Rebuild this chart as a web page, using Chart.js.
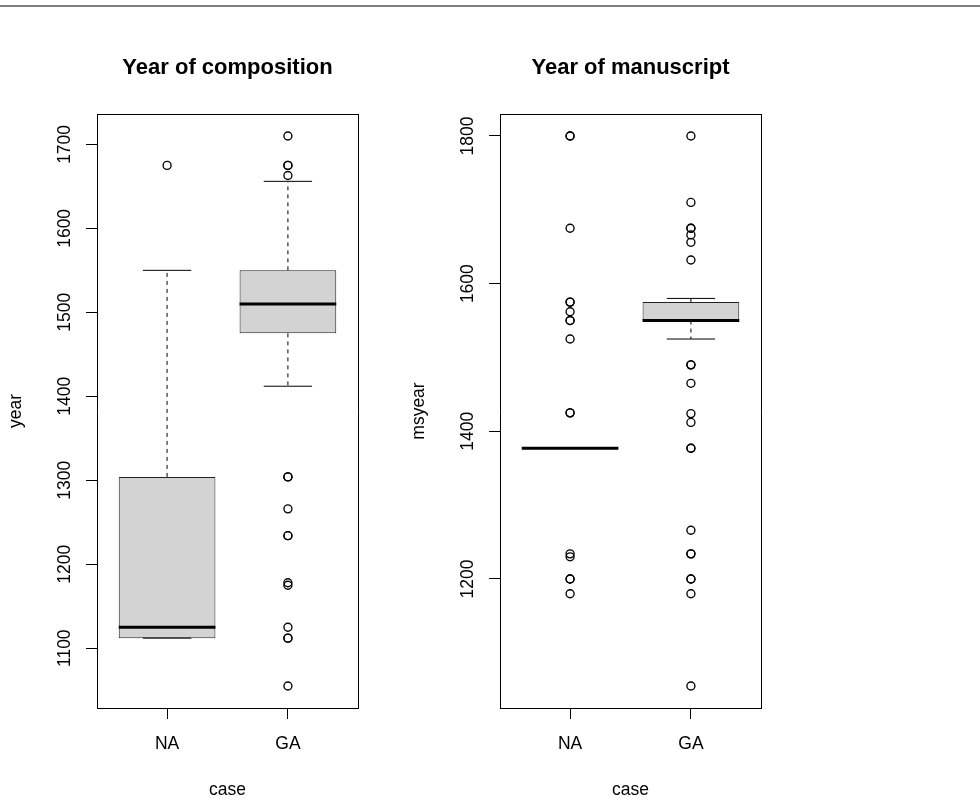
<!DOCTYPE html>
<html>
<head>
<meta charset="utf-8">
<title>Year of composition / Year of manuscript</title>
<script src="https://cdn.jsdelivr.net/npm/chart.js@4/dist/chart.umd.min.js"></script>
<style>
body{margin:0;background:#fff;}
#page{position:relative;width:980px;height:803px;overflow:hidden;background:#fff;}
#topline{position:absolute;left:0;top:5px;width:980px;height:2px;background:#7f7f7f;}
canvas{position:absolute;top:0;}
#compChart{left:0;}
#msChart{left:403px;}
</style>
</head>
<body>
<div id="page">
    <div id="topline"></div>
    <canvas id="compChart" width="455" height="803"></canvas>
    <canvas id="msChart" width="455" height="803"></canvas>
</div>
<script>
// ===== DATA =====
const categories = ["NA", "GA"];
const positions = [1, 2];

// year of composition
const compLower = [1112, 1412];
const compQ1 = [1112, 1475];
const compMedian = [1125, 1510];
const compQ3 = [1304, 1550];
const compUpper = [1550, 1656];
const compOutNA = [1675];
const compOutGA = [1710, 1675, 1675, 1663, 1304, 1304, 1266, 1234, 1234, 1178, 1175, 1125, 1112, 1112, 1055];
const compTicks = [1100, 1200, 1300, 1400, 1500, 1600, 1700];

// year of manuscript
const msLower = [1377, 1525];
const msQ1 = [1377, 1550];
const msMedian = [1377, 1550];
const msQ3 = [1377, 1575];
const msUpper = [1377, 1580];
const msOutNA = [1800, 1800, 1675, 1575, 1575, 1562, 1550, 1550, 1525, 1425, 1425, 1234, 1230, 1200, 1200, 1180];
const msOutGA = [1800, 1710, 1675, 1675, 1666, 1656, 1632, 1490, 1490, 1465, 1424, 1412, 1377, 1377, 1266, 1234, 1234, 1200, 1200, 1180, 1055];
const msTicks = [1200, 1400, 1600, 1800];

// ===== STYLE =====
const FONT = "'Liberation Sans', Arial, Helvetica, sans-serif";
const INK = "#000";
const labelFont = {family: FONT, size: 17.5, lineHeight: 1.2};

Chart.defaults.font.family = FONT;
Chart.defaults.color = INK;

// ===== BOXPLOT =====
function drawBoxplot(id, title, yLabel, s, yTicks){
    let boxes = [], medians = [], whiskers = [], staples = [], points = [];

    positions.forEach((p, i) => {
        boxes.push({x: p, y: [s.q1[i], s.q3[i]]});
        medians.push({x: p - 0.4, y: s.med[i]}, {x: p + 0.4, y: s.med[i]}, {x: p, y: null});
        whiskers.push({x: p, y: s.q3[i]}, {x: p, y: s.hi[i]}, {x: p, y: null},
                      {x: p, y: s.q1[i]}, {x: p, y: s.lo[i]}, {x: p, y: null});
        staples.push({x: p - 0.2, y: s.hi[i]}, {x: p + 0.2, y: s.hi[i]}, {x: p, y: null},
                     {x: p - 0.2, y: s.lo[i]}, {x: p + 0.2, y: s.lo[i]}, {x: p, y: null});
        s.out[i].forEach(v => points.push({x: p, y: v}));
    });

    // R style ranges: 4% padding on each side
    let all = points.map(d => d.y).concat(s.lo, s.hi);
    let yLo = Math.min(...all), yHi = Math.max(...all);
    let yPad = (yHi - yLo) * 0.04;
    let xLo = 0.5, xHi = positions.length + 0.5;
    let xPad = (xHi - xLo) * 0.04;

    let axisLine = {display: true, color: INK, width: 1};
    let tickMarks = {display: true, offset: false, drawOnChartArea: false, drawTicks: true, tickLength: 11, color: INK, lineWidth: 1};
    let noMarks = {display: false, offset: false, drawTicks: false};

    new Chart(document.getElementById(id), {
        type: "scatter",
        data: {
            datasets: [
                {
                    type: "scatter",
                    data: points,
                    pointStyle: "circle",
                    pointRadius: 4,
                    pointBorderWidth: 1.35,
                    pointBorderColor: INK,
                    pointBackgroundColor: "rgba(0,0,0,0)"
                },
                {
                    type: "line",
                    data: medians,
                    borderColor: INK,
                    borderWidth: 3,
                    borderCapStyle: "butt",
                    pointRadius: 0,
                    spanGaps: false,
                    fill: false
                },
                {
                    type: "line",
                    data: staples,
                    borderColor: INK,
                    borderWidth: 1,
                    pointRadius: 0,
                    spanGaps: false,
                    fill: false
                },
                {
                    type: "line",
                    data: whiskers,
                    borderColor: INK,
                    borderWidth: 1,
                    borderDash: [4, 4],
                    pointRadius: 0,
                    spanGaps: false,
                    fill: false
                },
                {
                    type: "bar",
                    data: boxes,
                    backgroundColor: "#D3D3D3",
                    borderColor: "#222",
                    borderWidth: 1,
                    borderSkipped: false,
                    categoryPercentage: 1,
                    barPercentage: 0.8
                }
            ]
        },
        options: {
            responsive: false,
            animation: false,
            events: [],
            layout: {padding: 0},
            plugins: {
                legend: {display: false},
                tooltip: {enabled: false},
                title: {
                    display: true,
                    text: title,
                    color: INK,
                    font: {family: FONT, size: 22, weight: "bold", lineHeight: 1.2},
                    padding: {top: 55, bottom: 32.6}
                }
            },
            scales: {
                x: {
                    type: "linear",
                    position: "bottom",
                    min: xLo - xPad,
                    max: xHi + xPad,
                    offset: false,
                    afterBuildTicks: sc => { sc.ticks = positions.map(v => ({value: v})); },
                    afterFit: sc => { sc.height = 95; },
                    ticks: {
                        color: INK,
                        font: labelFont,
                        padding: 15,
                        autoSkip: false,
                        maxRotation: 0,
                        callback: v => categories[positions.indexOf(v)]
                    },
                    grid: tickMarks,
                    border: axisLine,
                    title: {display: true, text: "case", color: INK, font: labelFont, padding: {top: 0, bottom: 2}}
                },
                y: {
                    type: "linear",
                    position: "left",
                    min: yLo - yPad,
                    max: yHi + yPad,
                    afterBuildTicks: sc => { sc.ticks = yTicks.map(v => ({value: v})); },
                    afterFit: sc => { sc.width = 97; },
                    ticks: {
                        color: INK,
                        font: labelFont,
                        minRotation: 90,
                        maxRotation: 90,
                        crossAlign: "center",
                        padding: 1,
                        autoSkip: false,
                        callback: v => String(v)
                    },
                    grid: tickMarks,
                    border: axisLine,
                    title: {display: true, text: yLabel, color: INK, font: labelFont, padding: {top: 6, bottom: 0}}
                },
                // plain frame lines (R box around the plot)
                x2: {
                    type: "linear",
                    position: "top",
                    grid: noMarks,
                    ticks: {display: false},
                    title: {display: false},
                    border: axisLine,
                    afterBuildTicks: sc => { sc.ticks = []; },
                    afterFit: sc => { sc.height = 0; }
                },
                y2: {
                    type: "linear",
                    position: "right",
                    grid: noMarks,
                    ticks: {display: false},
                    title: {display: false},
                    border: axisLine,
                    afterBuildTicks: sc => { sc.ticks = []; },
                    afterFit: sc => { sc.width = 97; }
                }
            }
        }
    });
}

// ===== START =====
drawBoxplot("compChart", "Year of composition", "year", {
    lo: compLower, q1: compQ1, med: compMedian, q3: compQ3, hi: compUpper,
    out: [compOutNA, compOutGA]
}, compTicks);

drawBoxplot("msChart", "Year of manuscript", "msyear", {
    lo: msLower, q1: msQ1, med: msMedian, q3: msQ3, hi: msUpper,
    out: [msOutNA, msOutGA]
}, msTicks);
</script>
</body>
</html>
